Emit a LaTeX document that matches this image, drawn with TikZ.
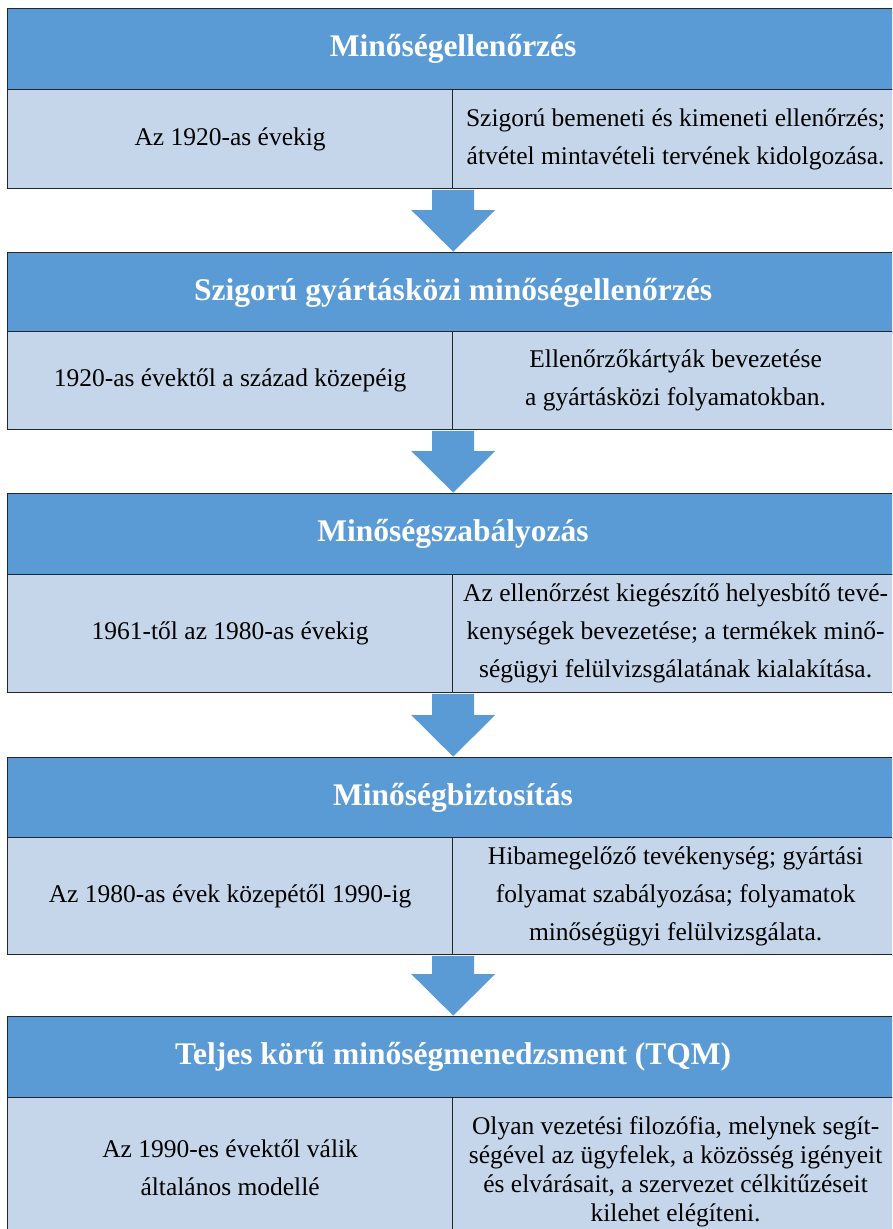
\documentclass[tikz,border=0pt]{standalone}
\usepackage{fontspec}
\setmainfont{Liberation Serif}
\usetikzlibrary{calc}

\definecolor{headblue}{HTML}{5B9BD5}
\definecolor{bodyblue}{HTML}{C5D6EB}
\definecolor{edge}{HTML}{262626}

\tikzset{
  head/.style={draw=edge, line width=1.2pt, fill=headblue, text=white,
    font={\fontsize{31.5}{36}\selectfont\bfseries}, minimum width=891pt,
    minimum height=81pt, inner sep=0pt, anchor=north west},
  cellleft/.style={draw=edge, line width=1.2pt, fill=bodyblue, text=black,
    font={\fontsize{25.5}{38}\selectfont}, minimum width=445pt,
    inner sep=0pt, anchor=north west, align=center},
  cellright/.style={cellleft, minimum width=446pt},
  flow/.style={fill=headblue}
}

% down arrow from the bottom of one stage to the header of the next
\newcommand\flowarrow[2]{%
  \fill[flow] ($(#1.south east)+(-21,0.6)$) -- ($(#1.south east |- #2.north)+(-21,-42)$)
    -- ($(#1.south east |- #2.north)+(-42,-42)$) -- ($(#1.south east |- #2.north)+(0,-0.4)$)
    -- ($(#1.south east |- #2.north)+(42,-42)$) -- ($(#1.south east |- #2.north)+(21,-42)$)
    -- ($(#1.south east)+(21,0.6)$) -- cycle;}

\begin{document}
\begin{tikzpicture}[x=1pt, y=-1pt]
\clip (0,0) rectangle (892,1229);
\fill[white] (0,0) rectangle (892,1229);

% stage 1
\node[head] (h1) at (7,8) {Minőségellenőrzés};
\node[cellleft, minimum height=99pt] (l1) at (7,89) {Az 1920-as évekig};
\node[cellright, minimum height=99pt] (r1) at (452,89)
  {Szigorú bemeneti és kimeneti ellenőrzés;\\átvétel mintavételi tervének kidolgozása.};

% stage 2
\node[head] (h2) at (7,252) {Szigorú gyártásközi minőségellenőrzés};
\node[cellleft, minimum height=98pt] (l2) at (7,331) {1920-as évektől a század közepéig};
\node[cellright, minimum height=98pt] (r2) at (452,331)
  {Ellenőrzőkártyák bevezetése\\a gyártásközi folyamatokban.};

% stage 3
\node[head] (h3) at (7,493) {Minőségszabályozás};
\node[cellleft, minimum height=118pt] (l3) at (7,574) {1961-től az 1980-as évekig};
\node[cellright, minimum height=118pt] (r3) at (452,574)
  {Az ellenőrzést kiegészítő helyesbítő tevé-\\kenységek bevezetése; a termékek minő-\\ségügyi felülvizsgálatának kialakítása.};

% stage 4
\node[head] (h4) at (7,757) {Minőségbiztosítás};
\node[cellleft, minimum height=117pt] (l4) at (7,837) {Az 1980-as évek közepétől 1990-ig};
\node[cellright, minimum height=117pt] (r4) at (452,837)
  {Hibamegelőző tevékenység; gyártási\\folyamat szabályozása; folyamatok\\minőségügyi felülvizsgálata.};

% stage 5 (runs past the lower edge)
\node[head] (h5) at (7,1016) {Teljes körű minőségmenedzsment (TQM)};
\node[cellleft, minimum height=140pt] (l5) at (7,1097) {Az 1990-es évektől válik\\általános modellé};
\node[cellright, minimum height=149pt, font={\fontsize{25.5}{29}\selectfont}] (r5) at (452,1097)
  {Olyan vezetési filozófia, melynek segít-\\ségével az ügyfelek, a közösség igényeit\\és elvárásait, a szervezet célkitűzéseit\\kilehet elégíteni.};

% arrows between stages
\flowarrow{l1}{h2}
\flowarrow{l2}{h3}
\flowarrow{l3}{h4}
\flowarrow{l4}{h5}
\end{tikzpicture}
\end{document}
